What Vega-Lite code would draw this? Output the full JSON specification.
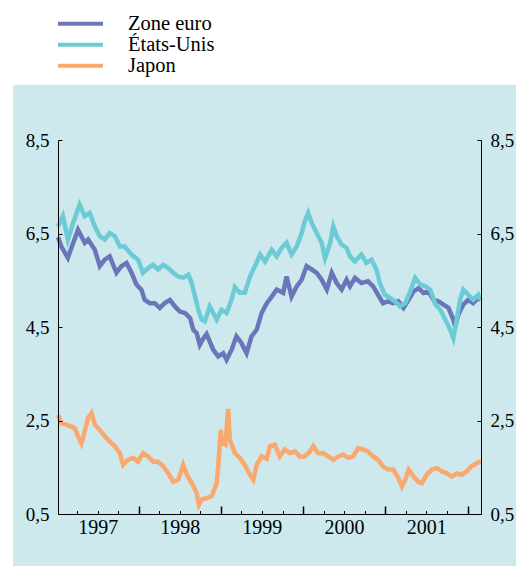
{
  "$schema": "https://vega.github.io/schema/vega-lite/v6.json",
  "width": 423,
  "height": 374,
  "autosize": {"type": "none"},
  "padding": {"left": 58, "top": 140, "right": 42, "bottom": 67},
  "background": "white",
  "config": {"view": {"stroke": null}, "font": "Liberation Serif, Times New Roman, serif"},
  "data": {
    "format": {"parse": {"d": "utc:'%Y-%m-%d'"}},
    "values": [
      {"d":"1997-01-05","s":"Zone euro","v":6.42},{"d":"1997-01-20","s":"Zone euro","v":6.22},{"d":"1997-02-18","s":"Zone euro","v":5.98},{"d":"1997-03-10","s":"Zone euro","v":6.25},{"d":"1997-04-04","s":"Zone euro","v":6.58},{"d":"1997-05-04","s":"Zone euro","v":6.30},{"d":"1997-05-19","s":"Zone euro","v":6.37},{"d":"1997-06-18","s":"Zone euro","v":6.15},{"d":"1997-07-10","s":"Zone euro","v":5.80},{"d":"1997-08-01","s":"Zone euro","v":5.94},{"d":"1997-08-23","s":"Zone euro","v":6.01},{"d":"1997-09-22","s":"Zone euro","v":5.66},{"d":"1997-10-14","s":"Zone euro","v":5.80},{"d":"1997-11-06","s":"Zone euro","v":5.87},{"d":"1997-11-28","s":"Zone euro","v":5.66},{"d":"1997-12-20","s":"Zone euro","v":5.41},
      {"d":"1998-01-11","s":"Zone euro","v":5.30},{"d":"1998-01-26","s":"Zone euro","v":5.08},{"d":"1998-02-17","s":"Zone euro","v":5.01},{"d":"1998-03-11","s":"Zone euro","v":5.01},{"d":"1998-04-03","s":"Zone euro","v":4.91},{"d":"1998-04-25","s":"Zone euro","v":5.01},{"d":"1998-05-18","s":"Zone euro","v":5.08},{"d":"1998-06-09","s":"Zone euro","v":4.94},{"d":"1998-07-01","s":"Zone euro","v":4.83},{"d":"1998-07-24","s":"Zone euro","v":4.80},{"d":"1998-08-16","s":"Zone euro","v":4.69},{"d":"1998-08-30","s":"Zone euro","v":4.44},{"d":"1998-09-14","s":"Zone euro","v":4.37},{"d":"1998-09-28","s":"Zone euro","v":4.12},{"d":"1998-10-13","s":"Zone euro","v":4.25},{"d":"1998-10-28","s":"Zone euro","v":4.35},{"d":"1998-11-27","s":"Zone euro","v":4.01},{"d":"1998-12-19","s":"Zone euro","v":3.87},
      {"d":"1999-01-10","s":"Zone euro","v":3.94},{"d":"1999-01-25","s":"Zone euro","v":3.80},{"d":"1999-02-16","s":"Zone euro","v":4.01},{"d":"1999-03-10","s":"Zone euro","v":4.30},{"d":"1999-04-01","s":"Zone euro","v":4.16},{"d":"1999-04-24","s":"Zone euro","v":3.94},{"d":"1999-05-16","s":"Zone euro","v":4.30},{"d":"1999-06-08","s":"Zone euro","v":4.44},{"d":"1999-06-30","s":"Zone euro","v":4.80},{"d":"1999-07-23","s":"Zone euro","v":5.01},{"d":"1999-08-14","s":"Zone euro","v":5.15},{"d":"1999-09-05","s":"Zone euro","v":5.30},{"d":"1999-10-04","s":"Zone euro","v":5.23},{"d":"1999-10-19","s":"Zone euro","v":5.58},{"d":"1999-11-10","s":"Zone euro","v":5.15},{"d":"1999-12-03","s":"Zone euro","v":5.37},{"d":"1999-12-25","s":"Zone euro","v":5.51},
      {"d":"2000-01-16","s":"Zone euro","v":5.80},{"d":"2000-02-08","s":"Zone euro","v":5.73},{"d":"2000-03-01","s":"Zone euro","v":5.66},{"d":"2000-03-23","s":"Zone euro","v":5.51},{"d":"2000-04-15","s":"Zone euro","v":5.30},{"d":"2000-05-07","s":"Zone euro","v":5.66},{"d":"2000-05-29","s":"Zone euro","v":5.44},{"d":"2000-06-20","s":"Zone euro","v":5.30},{"d":"2000-07-12","s":"Zone euro","v":5.51},{"d":"2000-07-27","s":"Zone euro","v":5.37},{"d":"2000-08-18","s":"Zone euro","v":5.55},{"d":"2000-09-16","s":"Zone euro","v":5.44},{"d":"2000-10-15","s":"Zone euro","v":5.48},{"d":"2000-11-07","s":"Zone euro","v":5.37},{"d":"2000-11-29","s":"Zone euro","v":5.19},{"d":"2000-12-21","s":"Zone euro","v":5.01},
      {"d":"2001-01-12","s":"Zone euro","v":5.05},{"d":"2001-02-04","s":"Zone euro","v":5.01},{"d":"2001-02-27","s":"Zone euro","v":5.05},{"d":"2001-03-22","s":"Zone euro","v":4.91},{"d":"2001-04-14","s":"Zone euro","v":5.08},{"d":"2001-05-06","s":"Zone euro","v":5.26},{"d":"2001-05-28","s":"Zone euro","v":5.33},{"d":"2001-06-19","s":"Zone euro","v":5.23},{"d":"2001-07-11","s":"Zone euro","v":5.26},{"d":"2001-08-03","s":"Zone euro","v":5.08},{"d":"2001-08-25","s":"Zone euro","v":5.05},{"d":"2001-09-16","s":"Zone euro","v":4.98},{"d":"2001-10-08","s":"Zone euro","v":4.91},{"d":"2001-10-30","s":"Zone euro","v":4.66},{"d":"2001-11-07","s":"Zone euro","v":4.51},{"d":"2001-11-21","s":"Zone euro","v":4.76},{"d":"2001-12-13","s":"Zone euro","v":4.98},{"d":"2002-01-04","s":"Zone euro","v":5.08},{"d":"2002-01-26","s":"Zone euro","v":5.01},{"d":"2002-02-18","s":"Zone euro","v":5.12},{"d":"2002-03-01","s":"Zone euro","v":5.08},

      {"d":"1997-01-05","s":"États-Unis","v":6.65},{"d":"1997-01-27","s":"États-Unis","v":6.87},{"d":"1997-02-18","s":"États-Unis","v":6.37},{"d":"1997-03-13","s":"États-Unis","v":6.72},{"d":"1997-04-11","s":"États-Unis","v":7.12},{"d":"1997-05-04","s":"États-Unis","v":6.87},{"d":"1997-05-26","s":"États-Unis","v":6.94},{"d":"1997-06-18","s":"États-Unis","v":6.65},{"d":"1997-07-10","s":"États-Unis","v":6.44},{"d":"1997-08-01","s":"États-Unis","v":6.37},{"d":"1997-08-23","s":"États-Unis","v":6.51},{"d":"1997-09-15","s":"États-Unis","v":6.44},{"d":"1997-10-07","s":"États-Unis","v":6.22},{"d":"1997-10-29","s":"États-Unis","v":6.22},{"d":"1997-11-28","s":"États-Unis","v":6.05},{"d":"1997-12-27","s":"États-Unis","v":5.94},
      {"d":"1998-01-18","s":"États-Unis","v":5.66},{"d":"1998-02-10","s":"États-Unis","v":5.76},{"d":"1998-03-04","s":"États-Unis","v":5.83},{"d":"1998-03-26","s":"États-Unis","v":5.73},{"d":"1998-04-18","s":"États-Unis","v":5.83},{"d":"1998-05-10","s":"États-Unis","v":5.76},{"d":"1998-06-02","s":"États-Unis","v":5.66},{"d":"1998-06-24","s":"États-Unis","v":5.58},{"d":"1998-07-16","s":"États-Unis","v":5.55},{"d":"1998-08-08","s":"États-Unis","v":5.62},{"d":"1998-08-23","s":"États-Unis","v":5.44},{"d":"1998-09-07","s":"États-Unis","v":5.15},{"d":"1998-09-21","s":"États-Unis","v":4.87},{"d":"1998-10-06","s":"États-Unis","v":4.66},{"d":"1998-10-20","s":"États-Unis","v":4.62},{"d":"1998-11-11","s":"États-Unis","v":4.94},{"d":"1998-12-12","s":"États-Unis","v":4.66},
      {"d":"1999-01-03","s":"États-Unis","v":4.87},{"d":"1999-01-25","s":"États-Unis","v":4.80},{"d":"1999-02-16","s":"États-Unis","v":5.08},{"d":"1999-03-03","s":"États-Unis","v":5.35},{"d":"1999-03-25","s":"États-Unis","v":5.23},{"d":"1999-04-16","s":"États-Unis","v":5.23},{"d":"1999-05-09","s":"États-Unis","v":5.58},{"d":"1999-05-31","s":"États-Unis","v":5.80},{"d":"1999-06-23","s":"États-Unis","v":6.05},{"d":"1999-07-15","s":"États-Unis","v":5.90},{"d":"1999-08-14","s":"États-Unis","v":6.15},{"d":"1999-09-05","s":"États-Unis","v":6.01},{"d":"1999-09-27","s":"États-Unis","v":6.19},{"d":"1999-10-19","s":"États-Unis","v":6.30},{"d":"1999-11-10","s":"États-Unis","v":6.05},{"d":"1999-12-03","s":"États-Unis","v":6.22},{"d":"1999-12-25","s":"États-Unis","v":6.51},
      {"d":"2000-01-08","s":"États-Unis","v":6.76},{"d":"2000-01-23","s":"États-Unis","v":6.94},{"d":"2000-02-08","s":"États-Unis","v":6.72},{"d":"2000-03-01","s":"États-Unis","v":6.51},{"d":"2000-03-23","s":"États-Unis","v":6.30},{"d":"2000-04-07","s":"États-Unis","v":5.97},{"d":"2000-04-30","s":"États-Unis","v":6.30},{"d":"2000-05-14","s":"États-Unis","v":6.65},{"d":"2000-05-29","s":"États-Unis","v":6.44},{"d":"2000-06-20","s":"États-Unis","v":6.26},{"d":"2000-07-12","s":"États-Unis","v":6.19},{"d":"2000-07-27","s":"États-Unis","v":6.01},{"d":"2000-08-18","s":"États-Unis","v":5.90},{"d":"2000-09-16","s":"États-Unis","v":6.05},{"d":"2000-10-08","s":"États-Unis","v":5.87},{"d":"2000-10-31","s":"États-Unis","v":5.94},{"d":"2000-11-22","s":"États-Unis","v":5.73},{"d":"2000-12-07","s":"États-Unis","v":5.44},{"d":"2000-12-29","s":"États-Unis","v":5.19},
      {"d":"2001-01-21","s":"États-Unis","v":5.12},{"d":"2001-02-12","s":"États-Unis","v":5.05},{"d":"2001-03-07","s":"États-Unis","v":4.94},{"d":"2001-03-30","s":"États-Unis","v":5.01},{"d":"2001-04-21","s":"États-Unis","v":5.26},{"d":"2001-05-13","s":"États-Unis","v":5.55},{"d":"2001-06-04","s":"États-Unis","v":5.41},{"d":"2001-06-27","s":"États-Unis","v":5.37},{"d":"2001-07-19","s":"États-Unis","v":5.30},{"d":"2001-08-11","s":"États-Unis","v":4.98},{"d":"2001-09-02","s":"États-Unis","v":4.87},{"d":"2001-09-24","s":"États-Unis","v":4.66},{"d":"2001-10-16","s":"États-Unis","v":4.44},{"d":"2001-10-30","s":"États-Unis","v":4.26},{"d":"2001-11-14","s":"États-Unis","v":4.66},{"d":"2001-11-29","s":"États-Unis","v":5.08},{"d":"2001-12-13","s":"États-Unis","v":5.30},{"d":"2002-01-04","s":"États-Unis","v":5.19},{"d":"2002-01-26","s":"États-Unis","v":5.08},{"d":"2002-02-18","s":"États-Unis","v":5.19},{"d":"2002-03-01","s":"États-Unis","v":5.08},

      {"d":"1997-01-05","s":"Japon","v":2.62},{"d":"1997-01-20","s":"Japon","v":2.44},{"d":"1997-02-11","s":"Japon","v":2.41},{"d":"1997-03-05","s":"Japon","v":2.37},{"d":"1997-03-20","s":"Japon","v":2.34},{"d":"1997-04-04","s":"Japon","v":2.16},{"d":"1997-04-19","s":"Japon","v":2.01},{"d":"1997-05-04","s":"Japon","v":2.27},{"d":"1997-05-19","s":"Japon","v":2.56},{"d":"1997-06-03","s":"Japon","v":2.66},{"d":"1997-06-18","s":"Japon","v":2.41},{"d":"1997-07-10","s":"Japon","v":2.30},{"d":"1997-08-01","s":"Japon","v":2.16},{"d":"1997-08-23","s":"Japon","v":2.05},{"d":"1997-09-15","s":"Japon","v":1.95},{"d":"1997-10-07","s":"Japon","v":1.80},{"d":"1997-10-22","s":"Japon","v":1.55},{"d":"1997-11-13","s":"Japon","v":1.66},{"d":"1997-12-05","s":"Japon","v":1.70},{"d":"1997-12-27","s":"Japon","v":1.62},
      {"d":"1998-01-18","s":"Japon","v":1.80},{"d":"1998-02-10","s":"Japon","v":1.73},{"d":"1998-03-04","s":"Japon","v":1.62},{"d":"1998-03-26","s":"Japon","v":1.62},{"d":"1998-04-18","s":"Japon","v":1.52},{"d":"1998-05-10","s":"Japon","v":1.37},{"d":"1998-06-02","s":"Japon","v":1.19},{"d":"1998-06-24","s":"Japon","v":1.23},{"d":"1998-07-16","s":"Japon","v":1.55},{"d":"1998-08-01","s":"Japon","v":1.34},{"d":"1998-08-23","s":"Japon","v":1.16},{"d":"1998-09-14","s":"Japon","v":0.95},{"d":"1998-09-24","s":"Japon","v":0.70},{"d":"1998-10-06","s":"Japon","v":0.81},{"d":"1998-10-28","s":"Japon","v":0.84},{"d":"1998-11-20","s":"Japon","v":0.88},{"d":"1998-12-12","s":"Japon","v":1.16},{"d":"1998-12-19","s":"Japon","v":1.52},{"d":"1998-12-26","s":"Japon","v":2.01},{"d":"1998-12-30","s":"Japon","v":2.30},
      {"d":"1999-01-06","s":"Japon","v":2.02},{"d":"1999-01-20","s":"Japon","v":1.98},{"d":"1999-02-01","s":"Japon","v":2.75},{"d":"1999-02-08","s":"Japon","v":2.10},{"d":"1999-03-03","s":"Japon","v":1.80},{"d":"1999-03-25","s":"Japon","v":1.70},{"d":"1999-04-16","s":"Japon","v":1.55},{"d":"1999-05-09","s":"Japon","v":1.34},{"d":"1999-05-24","s":"Japon","v":1.23},{"d":"1999-06-08","s":"Japon","v":1.55},{"d":"1999-06-30","s":"Japon","v":1.73},{"d":"1999-07-23","s":"Japon","v":1.68},{"d":"1999-08-06","s":"Japon","v":1.95},{"d":"1999-08-28","s":"Japon","v":1.98},{"d":"1999-09-19","s":"Japon","v":1.73},{"d":"1999-10-11","s":"Japon","v":1.88},{"d":"1999-11-03","s":"Japon","v":1.80},{"d":"1999-11-25","s":"Japon","v":1.84},{"d":"1999-12-17","s":"Japon","v":1.73},
      {"d":"2000-01-08","s":"Japon","v":1.73},{"d":"2000-01-31","s":"Japon","v":1.84},{"d":"2000-02-15","s":"Japon","v":1.95},{"d":"2000-03-08","s":"Japon","v":1.80},{"d":"2000-03-30","s":"Japon","v":1.80},{"d":"2000-04-22","s":"Japon","v":1.73},{"d":"2000-05-14","s":"Japon","v":1.66},{"d":"2000-06-05","s":"Japon","v":1.73},{"d":"2000-06-27","s":"Japon","v":1.77},{"d":"2000-07-19","s":"Japon","v":1.70},{"d":"2000-08-10","s":"Japon","v":1.73},{"d":"2000-09-01","s":"Japon","v":1.91},{"d":"2000-09-23","s":"Japon","v":1.88},{"d":"2000-10-15","s":"Japon","v":1.84},{"d":"2000-11-07","s":"Japon","v":1.73},{"d":"2000-11-29","s":"Japon","v":1.66},{"d":"2000-12-21","s":"Japon","v":1.52},
      {"d":"2001-01-12","s":"Japon","v":1.45},{"d":"2001-02-04","s":"Japon","v":1.45},{"d":"2001-02-27","s":"Japon","v":1.27},{"d":"2001-03-15","s":"Japon","v":1.09},{"d":"2001-03-30","s":"Japon","v":1.23},{"d":"2001-04-14","s":"Japon","v":1.45},{"d":"2001-05-06","s":"Japon","v":1.30},{"d":"2001-05-28","s":"Japon","v":1.19},{"d":"2001-06-12","s":"Japon","v":1.16},{"d":"2001-07-04","s":"Japon","v":1.34},{"d":"2001-07-26","s":"Japon","v":1.45},{"d":"2001-08-18","s":"Japon","v":1.48},{"d":"2001-09-09","s":"Japon","v":1.41},{"d":"2001-10-01","s":"Japon","v":1.37},{"d":"2001-10-23","s":"Japon","v":1.30},{"d":"2001-11-14","s":"Japon","v":1.37},{"d":"2001-12-06","s":"Japon","v":1.34},{"d":"2001-12-28","s":"Japon","v":1.41},{"d":"2002-01-19","s":"Japon","v":1.52},{"d":"2002-02-11","s":"Japon","v":1.59},{"d":"2002-03-01","s":"Japon","v":1.62}
    ]
  },
  "resolve": {"axis": {"x": "independent", "y": "independent"}},
  "layer": [
    {
      "data": {"values": [{}]},
      "mark": {"type": "rect", "color": "#cde9ed"},
      "encoding": {
        "x": {"datum": {"year": 1996, "month": 6, "date": 19, "utc": true}, "type": "temporal",
              "scale": {"type": "utc", "domain": [{"year": 1997, "month": 1, "date": 5, "utc": true}, {"year": 2002, "month": 3, "date": 2, "utc": true}], "nice": false},
              "axis": null},
        "x2": {"datum": {"year": 2002, "month": 8, "date": 5, "utc": true}},
        "y": {"datum": 9.68, "type": "quantitative", "scale": {"domain": [0.5, 8.5], "nice": false, "zero": false}, "axis": null},
        "y2": {"datum": -0.61}
      }
    },
    {
      "mark": {"type": "line", "strokeWidth": 4.5},
      "encoding": {
        "x": {"field": "d", "type": "temporal",
              "scale": {"type": "utc", "domain": [{"year": 1997, "month": 1, "date": 5, "utc": true}, {"year": 2002, "month": 3, "date": 2, "utc": true}], "nice": false},
              "axis": {"orient": "bottom", "title": null, "grid": false, "zindex": 2,
                       "values": [
                         {"year": 1997, "month": 4, "date": 1, "utc": true}, {"year": 1997, "month": 7, "date": 1, "utc": true}, {"year": 1997, "month": 10, "date": 1, "utc": true},
                         {"year": 1998, "month": 4, "date": 1, "utc": true}, {"year": 1998, "month": 7, "date": 1, "utc": true}, {"year": 1998, "month": 10, "date": 1, "utc": true},
                         {"year": 1999, "month": 4, "date": 1, "utc": true}, {"year": 1999, "month": 7, "date": 1, "utc": true}, {"year": 1999, "month": 10, "date": 1, "utc": true},
                         {"year": 2000, "month": 4, "date": 1, "utc": true}, {"year": 2000, "month": 7, "date": 1, "utc": true}, {"year": 2000, "month": 10, "date": 1, "utc": true},
                         {"year": 2001, "month": 4, "date": 1, "utc": true}, {"year": 2001, "month": 7, "date": 1, "utc": true}, {"year": 2001, "month": 10, "date": 1, "utc": true}
                       ],
                       "labelExpr": "utcmonth(datum.value) == 6 ? utcFormat(datum.value, '%Y') : ''",
                       "labelOverlap": false, "labelFlush": false, "labelAngle": 0, "labelAlign": "center", "labelBaseline": "top",
                       "labelFont": "Liberation Serif, Times New Roman, serif", "labelFontSize": 20, "labelColor": "black", "labelPadding": 7,
                       "tickSize": -3.5, "tickColor": "black", "tickWidth": 1, "domainColor": "black", "domainWidth": 1}},
        "y": {"field": "v", "type": "quantitative",
              "scale": {"domain": [0.5, 8.5], "nice": false, "zero": false},
              "axis": {"orient": "left", "title": null, "grid": false, "zindex": 2, "values": [0.5, 2.5, 4.5, 6.5, 8.5],
                       "labelExpr": "replace(format(datum.value, '.1f'), '.', ',')",
                       "labelFont": "Liberation Serif, Times New Roman, serif", "labelFontSize": 19, "labelColor": "black", "labelPadding": 13,
                       "tickSize": -4, "tickColor": "black", "domainColor": "black", "domainWidth": 1}},
        "color": {"field": "s", "type": "nominal",
                  "scale": {"domain": ["Zone euro", "États-Unis", "Japon"], "range": ["#6b75b9", "#6ccbd4", "#faa86e"]},
                  "legend": {"orient": "none", "legendX": -2, "legendY": -126, "title": null, "padding": 0, "zindex": 2,
                             "symbolType": "stroke", "symbolSize": 2025, "symbolStrokeWidth": 4,
                             "labelFont": "Liberation Serif, Times New Roman, serif", "labelFontSize": 20.5, "labelColor": "black",
                             "labelOffset": 23, "rowPadding": -4.5, "clipHeight": 19.7}}
      }
    },
    {
      "mark": {"type": "line", "opacity": 0},
      "encoding": {
        "x": {"field": "d", "type": "temporal",
              "scale": {"type": "utc", "domain": [{"year": 1997, "month": 1, "date": 5, "utc": true}, {"year": 2002, "month": 3, "date": 2, "utc": true}], "nice": false},
              "axis": {"orient": "bottom", "title": null, "grid": false, "labels": false, "domain": false, "zindex": 2,
                       "values": [
                         {"year": 1998, "month": 1, "date": 1, "utc": true}, {"year": 1999, "month": 1, "date": 1, "utc": true},
                         {"year": 2000, "month": 1, "date": 1, "utc": true}, {"year": 2001, "month": 1, "date": 1, "utc": true},
                         {"year": 2002, "month": 1, "date": 1, "utc": true}
                       ],
                       "tickSize": -8, "tickColor": "black", "tickWidth": 1.5}},
        "y": {"field": "v", "type": "quantitative",
              "scale": {"domain": [0.5, 8.5], "nice": false, "zero": false},
              "axis": {"orient": "right", "title": null, "grid": false, "zindex": 2, "values": [0.5, 2.5, 4.5, 6.5, 8.5],
                       "labelExpr": "replace(format(datum.value, '.1f'), '.', ',')",
                       "labelFont": "Liberation Serif, Times New Roman, serif", "labelFontSize": 19, "labelColor": "black", "labelPadding": 13,
                       "tickSize": -4, "tickColor": "black", "domainColor": "black", "domainWidth": 1}},
        "detail": {"field": "s", "type": "nominal"}
      }
    }
  ]
}
